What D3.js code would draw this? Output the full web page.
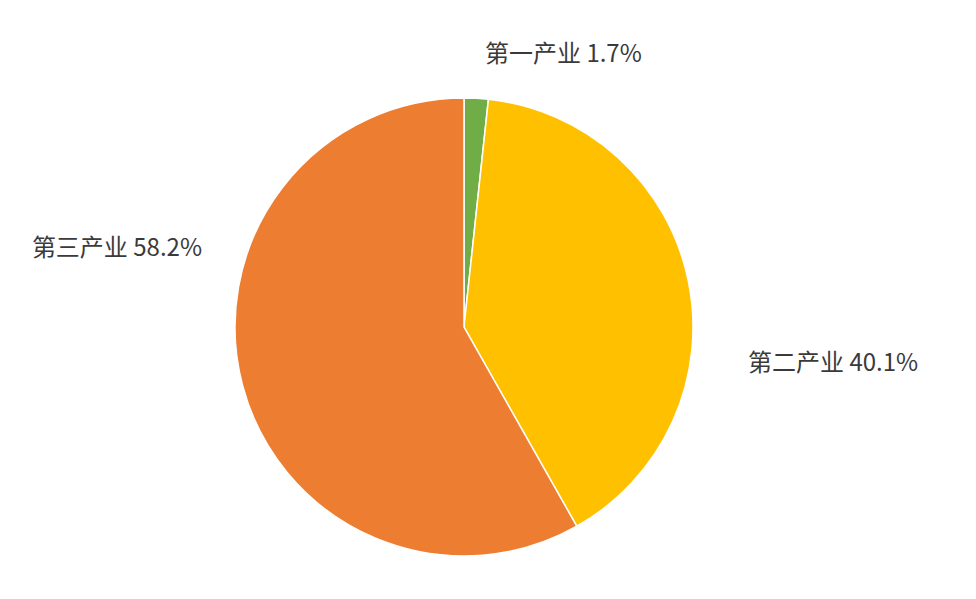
<!DOCTYPE html>
<html>
<head>
<meta charset="utf-8">
<script src="https://cdn.jsdelivr.net/npm/d3@7"></script>
<style>
html,body{margin:0;padding:0;background:#fff;}
</style>
</head>
<body>
<svg id="chart" width="976" height="599"></svg>
<script>
// 产业名称
var CATEGORIES=["第一产业","第二产业","第三产业"];
// 占比(%)
var VALUES=[1.7,40.1,58.2];
// 扇区颜色
var COLORS=["#70AD47","#FFC000","#ED7D31"];

// 饼图中心与半径
var CX=464, CY=327, RADIUS=229;
// 标签位置（相对圆心）
var LABEL_POS=[
	{dx:21,dy:-265,anchor:"start"},
	{dx:284,dy:44,anchor:"start"},
	{dx:-262,dy:-71,anchor:"end"}
];

var svg=d3.select("#chart");
var g=svg.append("g").attr("transform","translate("+CX+","+CY+")");

var pie=d3.pie().sort(null).value(function(d){return d;});
var arc=d3.arc().innerRadius(0).outerRadius(RADIUS);
var color=d3.scaleOrdinal().domain(CATEGORIES).range(COLORS);

var arcs=pie(VALUES);

g.selectAll("path.slice")
	.data(arcs)
	.enter()
	.append("path")
	.attr("class","slice")
	.attr("d",arc)
	.style("fill",function(d,i){return color(CATEGORIES[i]);})
	.style("stroke","#fff")
	.style("stroke-width","1.5px");

//标签
g.selectAll("text.label")
	.data(arcs)
	.enter()
	.append("text")
	.attr("class","label")
	.attr("x",function(d,i){return LABEL_POS[i].dx;})
	.attr("y",function(d,i){return LABEL_POS[i].dy;})
	.attr("text-anchor",function(d,i){return LABEL_POS[i].anchor;})
	.style("font-family","'Noto Sans CJK SC',sans-serif")
	.style("font-size","24px")
	.style("fill","#3a3a3a")
	.text(function(d,i){return CATEGORIES[i]+" "+d3.format(".1f")(VALUES[i])+"%";});
</script>
</body>
</html>
